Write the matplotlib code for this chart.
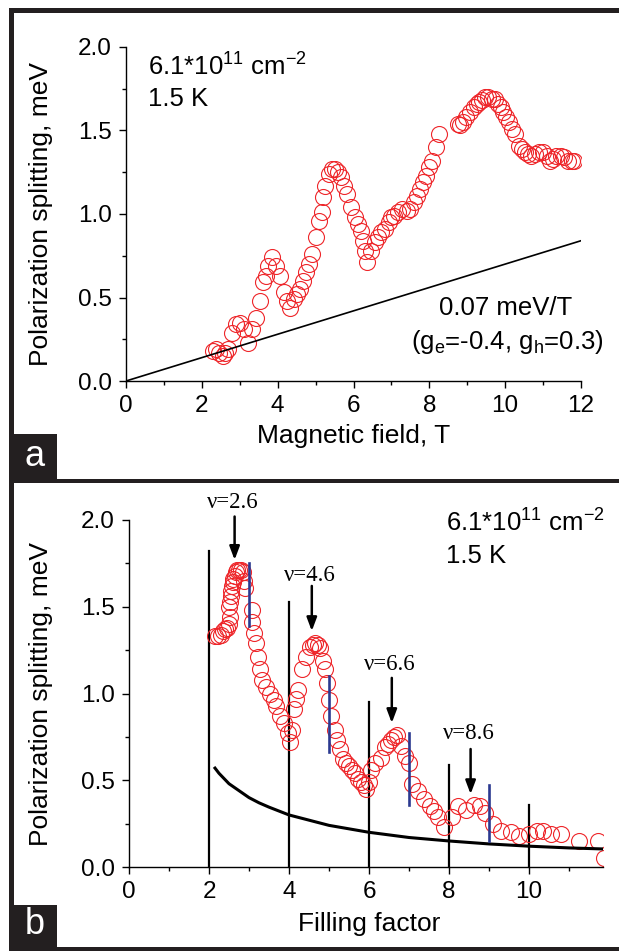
import matplotlib
matplotlib.use('Agg')
import matplotlib.pyplot as plt
from matplotlib.patches import Rectangle
from matplotlib.ticker import MultipleLocator

plt.rcParams['font.family'] = 'Liberation Sans'
plt.rcParams['mathtext.fontset'] = 'custom'
plt.rcParams['mathtext.rm'] = 'Liberation Sans'
plt.rcParams['mathtext.it'] = 'Liberation Sans:italic'

# (a) splitting vs magnetic field
field = [2.29, 2.38, 2.45, 2.55, 2.62, 2.7, 2.8, 2.9, 3.0, 3.1,
         3.23, 3.33, 3.44, 3.54, 3.6, 3.68, 3.75, 3.85, 3.96, 4.06,
         4.17, 4.25, 4.32, 4.43, 4.5, 4.58, 4.66, 4.74, 4.82, 4.9,
         5.0, 5.1, 5.16, 5.2, 5.26, 5.36, 5.44, 5.52, 5.6, 5.68,
         5.76, 5.83, 5.94, 6.04, 6.12, 6.2, 6.25, 6.3, 6.35, 6.46,
         6.56, 6.64, 6.72, 6.82, 6.93, 7.0, 7.08, 7.18, 7.29, 7.4,
         7.5, 7.6, 7.68, 7.76, 7.84, 7.92, 8.0, 8.08, 8.18, 8.25,
         8.75, 8.82, 8.9, 8.98, 9.06, 9.17, 9.25, 9.32, 9.4, 9.48,
         9.56, 9.64, 9.72, 9.8, 9.88, 9.95, 10.02, 10.1, 10.18, 10.26,
         10.36, 10.44, 10.52, 10.6, 10.68, 10.78, 10.89, 11.0, 11.1, 11.18,
         11.25, 11.35, 11.46, 11.56, 11.67, 11.75, 11.82]
split_a = [0.18, 0.19, 0.17, 0.15, 0.17, 0.19, 0.29, 0.34, 0.35, 0.31,
           0.23, 0.31, 0.38, 0.48, 0.59, 0.63, 0.69, 0.74, 0.69, 0.63,
           0.53, 0.48, 0.44, 0.49, 0.52, 0.55, 0.60, 0.65, 0.70, 0.76,
           0.86, 0.96, 1.01, 1.10, 1.17, 1.24, 1.27, 1.27, 1.25, 1.22,
           1.17, 1.12, 1.04, 0.98, 0.94, 0.90, 0.84, 0.78, 0.71, 0.78,
           0.83, 0.86, 0.89, 0.91, 0.95, 0.98, 0.99, 1.01, 1.03, 1.02,
           1.03, 1.07, 1.11, 1.15, 1.19, 1.23, 1.28, 1.32, 1.40, 1.48,
           1.54, 1.53, 1.55, 1.58, 1.61, 1.64, 1.66, 1.67, 1.68, 1.70,
           1.70, 1.69, 1.69, 1.66, 1.64, 1.61, 1.58, 1.55, 1.51, 1.48,
           1.41, 1.39, 1.37, 1.36, 1.35, 1.36, 1.37, 1.37, 1.35, 1.32,
           1.33, 1.35, 1.35, 1.34, 1.32, 1.32, 1.32]
zeeman_slope = 0.07  # meV/T
zeeman_field = [0, 12]

# (b) splitting vs filling factor
nu = [2.14, 2.22, 2.29, 2.35, 2.39, 2.44, 2.49, 2.52, 2.51, 2.53,
      2.54, 2.56, 2.57, 2.59, 2.61, 2.64, 2.67, 2.71, 2.74, 2.79,
      2.84, 2.88, 2.91, 3.08, 3.08, 3.13, 3.18, 3.23, 3.28, 3.33,
      3.43, 3.53, 3.63, 3.68, 3.78, 3.88, 3.97, 4.02, 4.07, 4.12,
      4.17, 4.22, 4.32, 4.42, 4.52, 4.59, 4.66, 4.72, 4.78, 4.84,
      4.91, 4.96, 5.01, 5.06, 5.14, 5.21, 5.28, 5.36, 5.43, 5.5,
      5.58, 5.65, 5.73, 5.8, 5.87, 5.93, 6.0, 6.05, 6.15, 6.29,
      6.39, 6.47, 6.54, 6.62, 6.69, 6.79, 6.89, 6.99, 7.08, 7.23,
      7.38, 7.53, 7.63, 7.73, 7.88, 8.07, 8.22, 8.42, 8.62, 8.77,
      8.91, 9.11, 9.31, 9.56, 9.75, 10.0, 10.2, 10.35, 10.54, 10.79,
      11.24, 11.73, 11.88]
split_b = [1.33, 1.33, 1.34, 1.36, 1.37, 1.38, 1.40, 1.44, 1.50, 1.53,
           1.56, 1.59, 1.62, 1.64, 1.66, 1.68, 1.70, 1.71, 1.71, 1.71,
           1.70, 1.65, 1.61, 1.48, 1.41, 1.35, 1.29, 1.21, 1.14, 1.08,
           1.04, 1.00, 0.96, 0.93, 0.87, 0.83, 0.77, 0.72, 0.79, 0.91,
           0.97, 1.02, 1.14, 1.21, 1.27, 1.28, 1.29, 1.28, 1.26, 1.19,
           1.14, 1.06, 0.96, 0.87, 0.79, 0.73, 0.68, 0.62, 0.60, 0.58,
           0.56, 0.54, 0.51, 0.49, 0.47, 0.45, 0.49, 0.56, 0.60, 0.63,
           0.69, 0.71, 0.73, 0.75, 0.76, 0.70, 0.64, 0.60, 0.48, 0.44,
           0.39, 0.35, 0.32, 0.29, 0.23, 0.29, 0.35, 0.33, 0.36, 0.35,
           0.31, 0.25, 0.21, 0.20, 0.18, 0.19, 0.21, 0.21, 0.19, 0.19,
           0.15, 0.15, 0.05]
nu_curve = [2.15, 2.25, 2.5, 2.75, 3.0, 3.25, 3.5, 4.0, 4.5, 5.0,
            6.0, 7.0, 8.0, 9.0, 10.0, 11.0, 11.85]
curve = [0.57, 0.54, 0.48, 0.44, 0.40, 0.37, 0.345, 0.30, 0.27, 0.24,
         0.20, 0.17, 0.15, 0.133, 0.12, 0.11, 0.104]

even_nu = [2, 4, 6, 8, 10]
even_top = [1.82, 1.53, 0.95, 0.59, 0.36]
odd_nu = [3, 5, 7, 9]
odd_lo = [1.39, 0.66, 0.36, 0.15]
odd_hi = [1.75, 1.10, 0.77, 0.47]

peak_nu = [2.64, 4.57, 6.57, 8.54]
peak_text = ['ν=2.6', 'ν=4.6', 'ν=6.6', 'ν=8.6']
arrow_top = [2.02, 1.62, 1.09, 0.68]
arrow_tip = [1.77, 1.36, 0.83, 0.42]
label_y = [2.10, 1.68, 1.165, 0.77]

W, H = 619, 951
red = '#ee2529'
dark = '#231f20'

fig = plt.figure(figsize=(W / 100, H / 100), dpi=100)


def px_box(x0, y0, x1, y1):
    # pixel box (origin top-left) -> figure fraction rect
    return [x0 / W, 1 - y1 / H, (x1 - x0) / W, (y1 - y0) / H]


def style_axes(ax):
    for s in ['top', 'right']:
        ax.spines[s].set_visible(False)
    for s in ['left', 'bottom']:
        ax.spines[s].set_linewidth(1.0)
    ax.xaxis.set_major_locator(MultipleLocator(2))
    ax.xaxis.set_minor_locator(MultipleLocator(1))
    ax.yaxis.set_major_locator(MultipleLocator(0.5))
    ax.yaxis.set_minor_locator(MultipleLocator(0.25))
    ax.tick_params(which='major', direction='out', length=5, width=1,
                   labelsize=17.5, pad=5)
    ax.tick_params(which='minor', direction='out', length=3, width=1)
    ax.set_ylim(0, 2.0)
    ax.yaxis.set_major_formatter(plt.FormatStrFormatter('%.1f'))


# panel a
ax1 = fig.add_axes(px_box(126, 47, 581, 381))
style_axes(ax1)
ax1.set_xlim(0, 12)
ax1.plot(field, split_a, 'o', ms=11.5, mfc='none', mec=red, mew=0.8)
ax1.plot(zeeman_field, [zeeman_slope * b for b in zeeman_field], color='k', lw=1.2)
ax1.set_xlabel('Magnetic field, T', fontsize=19)
ax1.set_ylabel('Polarization splitting, meV', fontsize=19)
ax1.xaxis.set_label_coords(0.5, -0.13)
ax1.yaxis.set_label_coords(-0.16, 0.5)
ax1.text(0.58, 1.88, '6.1*10$^{11}$ cm$^{-2}$', fontsize=18.5, va='center')
ax1.text(0.58, 1.69, '1.5 K', fontsize=18.5, va='center')
ax1.text(11.77, 0.44, '0.07 meV/T', fontsize=18.5, va='center', ha='right')
ax1.text(12.6, 0.235, '(g$_\\mathrm{e}$=-0.4, g$_\\mathrm{h}$=0.3)', fontsize=18.5,
         va='center', ha='right', clip_on=False)

# panel b
ax2 = fig.add_axes(px_box(129, 520, 603, 867))
style_axes(ax2)
ax2.set_xlim(0, 11.85)
for x, top in zip(even_nu, even_top):
    ax2.plot([x, x], [0, top], color='k', lw=1.6)
for x, lo, hi in zip(odd_nu, odd_lo, odd_hi):
    ax2.plot([x, x], [lo, hi], color='#2b3990', lw=1.9, zorder=4)
ax2.plot(nu, split_b, 'o', ms=11.5, mfc='none', mec=red, mew=0.8)
ax2.plot(nu_curve, curve, color='k', lw=2.2)
for x, t, a0, a1, ly in zip(peak_nu, peak_text, arrow_top, arrow_tip, label_y):
    ax2.annotate('', xy=(x, a1), xytext=(x, a0), annotation_clip=False,
                 arrowprops=dict(arrowstyle='-|>,head_length=0.8,head_width=0.3',
                                 color='k', lw=1.8, shrinkA=0, shrinkB=0))
    ax2.text(x - 0.04, ly, t, fontsize=16.5, family='Liberation Serif',
             ha='center', va='center', clip_on=False)
ax2.set_xlabel('Filling factor', fontsize=19)
ax2.set_ylabel('Polarization splitting, meV', fontsize=19)
ax2.xaxis.set_label_coords(0.506, -0.13)
ax2.yaxis.set_label_coords(-0.16, 0.5)
ax2.text(7.93, 1.98, '6.1*10$^{11}$ cm$^{-2}$', fontsize=18.5, va='center')
ax2.text(7.93, 1.79, '1.5 K', fontsize=18.5, va='center')

# outer frame and panel tags
for rect in [px_box(9, 8, 14, 951), px_box(9, 8, 619, 13),
             px_box(9, 479, 619, 483), px_box(9, 947, 619, 951),
             px_box(13, 434, 57, 480), px_box(13, 905, 57, 948)]:
    fig.add_artist(Rectangle(rect[:2], rect[2], rect[3], transform=fig.transFigure,
                             color=dark, lw=0))
fig.text(35 / W, 1 - 457 / H, 'a', color='white', fontsize=26, ha='center', va='center')
fig.text(35 / W, 1 - 924 / H, 'b', color='white', fontsize=26, ha='center', va='center')

fig.savefig('out.png', dpi=100)
